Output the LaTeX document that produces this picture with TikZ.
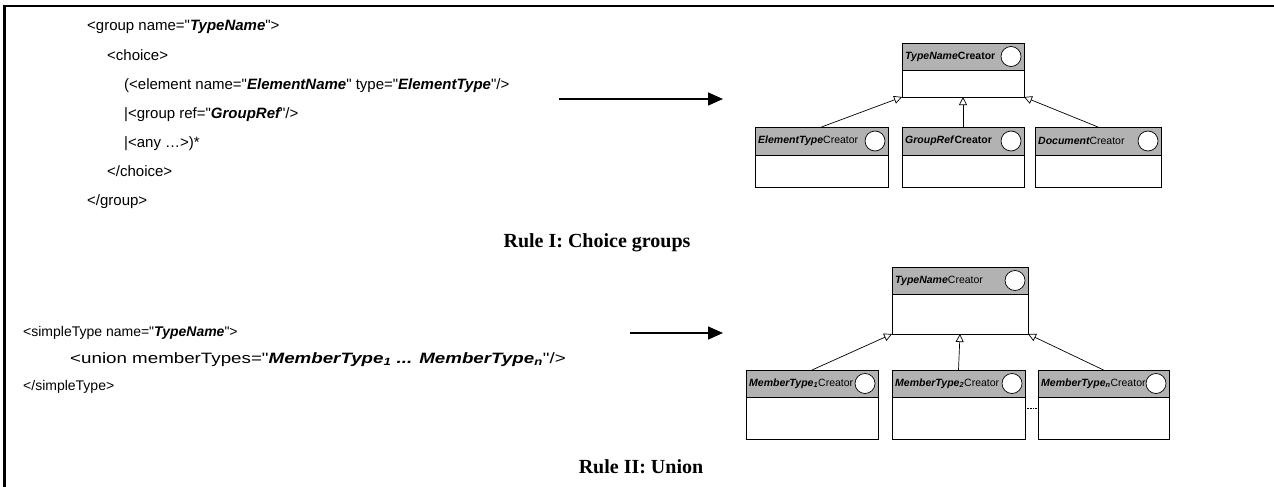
\documentclass[tikz,border=0pt]{standalone}
\usepackage{graphicx}
\usepackage{fontspec}
\setmainfont{Liberation Sans}[Ligatures=TeXOff]
\newfontfamily\rulefont{Liberation Serif}
\usetikzlibrary{arrows.meta,calc}

\definecolor{hdrgray}{RGB}{178,178,178}

\tikzset{
  code/.style={anchor=base west, inner sep=0pt, font=\fontsize{15}{17}\selectfont},
  codesmall/.style={code, font=\fontsize{14}{16}\selectfont},
  rulelabel/.style={inner sep=0pt, font=\fontsize{20}{22}\selectfont\rulefont\bfseries},
  hdr/.style={draw, fill=hdrgray, line width=0.8pt, inner sep=0pt, outer sep=0pt},
  bodybox/.style={draw, fill=white, line width=0.8pt, inner sep=0pt, outer sep=0pt},
  clslabel/.style={inner sep=0pt, font=\fontsize{10.5}{12}\selectfont},
  opcircle/.style={circle, draw, fill=white, line width=0.7pt, minimum size=20pt, inner sep=0pt},
  mapsto/.style={line width=1.5pt, -{Triangle[length=15pt,width=13pt]}},
  inherit/.style={line width=0.7pt, -{Triangle[open,length=8pt,width=8pt]}},
}

% class box: name, left, top, width, header height, body height, label
\newcommand{\umlclass}[7]{%
  \node[hdr, minimum width=#4pt, minimum height=#5pt, anchor=north west] (#1h) at (#2,#3) {};
  \node[bodybox, minimum width=#4pt, minimum height=#6pt, anchor=north west] (#1b) at (#1h.south west) {};
  \node[clslabel, anchor=west] (#1t) at ([xshift=3pt]#1h.west) {#7};
  \node[opcircle] (#1c) at ([xshift=-13pt]#1h.east) {};
}

\newcommand{\bi}[1]{{\bfseries\itshape #1}}

\begin{document}
\begin{tikzpicture}[x=1pt,y=-1pt]
\useasboundingbox (0,0) rectangle (1274,487);

% frame
\draw[line width=2.5pt] (4.5,487) -- (4.5,6) -- (1274,6);

% ---- Rule I: choice groups ----
\node[code] (g1) at (87,31)  {<group name="\bi{TypeName}">};
\node[code] (g2) at (107,60) {<choice>};
\node[code] (g3) at (124,89) {(<element name="\bi{ElementName}" type="\bi{ElementType}"/>};
\node[code] (g4) at (124,118) {|<group ref="\bi{GroupRef}"/>};
\node[code] (g5) at (124,147) {|<any …>)*};
\node[code] (g6) at (107,176) {</choice>};
\node[code] (g7) at (87,205) {</group>};

\coordinate (a1s) at (559,99);
\coordinate (a1e) at (723,99);
\draw[mapsto] (a1s) -- (a1e);

\umlclass{tn}{902}{43}{122}{27}{27}{\bi{TypeName}\textbf{Creator}}
\umlclass{et}{755}{127}{133}{28}{32}{\bi{ElementType}Creator}
\umlclass{gr}{902}{127}{122}{28}{32}{\bi{GroupRef}\textbf{Creator}}
\umlclass{dc}{1035}{127}{126}{28}{32}{\bi{Document}Creator}

\draw[inherit] (eth.north) -- (tnb.south west);
\draw[inherit] (grh.north) -- (tnb.south);
\draw[inherit] (dch.north) -- (tnb.south east);

\node[rulelabel] (r1) at (597,243) {Rule I: Choice groups};

% ---- Rule II: union ----
\node[codesmall] (u1) at (23,336) {<simpleType name="\bi{TypeName}">};
\node[code] (u2) at (70,363) {\scalebox{1.25}[1]{<union memberTypes="\bi{MemberType\textsubscript{1} ... MemberType\textsubscript{n}}"/>}};
\node[codesmall] (u3) at (23,390) {</simpleType>};

\coordinate (a2s) at (630,333);
\coordinate (a2e) at (723,333);
\draw[mapsto] (a2s) -- (a2e);

\umlclass{ut}{892}{267}{136}{27}{40}{\bi{TypeName}Creator}
\umlclass{ma}{746}{370}{132}{27}{42}{\bi{MemberType\textsubscript{1}}Creator}
\umlclass{mb}{892}{370}{133}{27}{42}{\bi{MemberType\textsubscript{2}}Creator}
\umlclass{mn}{1038}{370}{131}{27}{42}{\bi{MemberType\textsubscript{n}}Creator}

\draw[inherit] (mah.north) -- (utb.south west);
\draw[inherit] (mbh.north) -- (utb.south);
\draw[inherit] (mnh.north) -- (utb.south east);

\draw[densely dotted, line width=0.6pt] ([yshift=-11pt]mbb.north east) -- ([yshift=-11pt]mnb.north west);

\node[rulelabel] (r2) at (641,467) {Rule II: Union};
\end{tikzpicture}
\end{document}
